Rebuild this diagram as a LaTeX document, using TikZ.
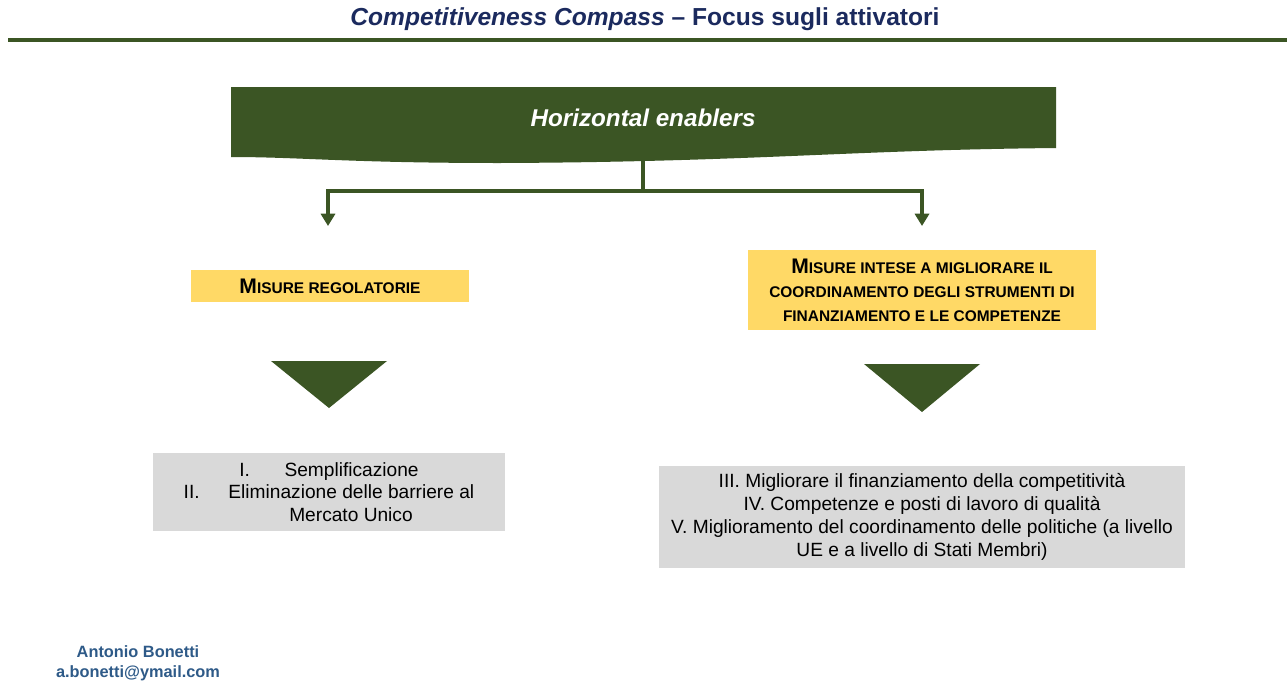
\documentclass[tikz,border=0pt]{standalone}
\usepackage{fontspec}
\setmainfont{Liberation Sans}
\usetikzlibrary{arrows.meta, positioning}

\definecolor{cgreen}{HTML}{3B5524}
\definecolor{cgold}{HTML}{FFD966}
\definecolor{cgrey}{HTML}{D9D9D9}
\definecolor{ctitle}{HTML}{1B2A5E}
\definecolor{cauthor}{HTML}{2E5A88}

% fake small caps: big first letter, small rest
\newcommand{\capsc}[2]{{\fontsize{12}{13}\selectfont #1}{\fontsize{8.8}{13}\selectfont #2}}

\begin{document}
\begin{tikzpicture}[
  x=0.02cm, y=-0.02cm,
  heading/.style={font=\bfseries\fontsize{14}{16}\selectfont, text=ctitle},
  banner/.style={font=\bfseries\itshape\fontsize{13.8}{16}\selectfont, text=white},
  measure/.style={rectangle, fill=cgold, align=center, inner sep=0pt, font=\bfseries\fontsize{8.8}{13.6}\selectfont},
  itemsbox/.style={rectangle, fill=cgrey, align=center, inner sep=0pt, font=\fontsize{10.9}{13}\selectfont},
  author/.style={font=\bfseries\fontsize{9.3}{11.5}\selectfont, text=cauthor, align=center},
  link/.style={draw=cgreen, line width=2.2pt},
  arrow/.style={link, -{Triangle[width=8pt,length=7pt]}}]

  \useasboundingbox (0,0) rectangle (1287,690);
  \fill[white] (0,0) rectangle (1287,690);

  % Title
  \node (title) [heading] at (645,19) {\textit{Competitiveness Compass} -- Focus sugli attivatori};
  \draw[cgreen, line width=2pt] (8,40) -- (1287,40);

  % Banner
  \fill[cgreen] (231,87) -- (1056,87) -- (1056,148)
    .. controls (850,150) and (750,162) .. (500,163)
    .. controls (350,163) and (300,157) .. (231,157) -- cycle;
  \node (enablers) [banner] at (643,118) {Horizontal enablers};
  \coordinate (stem) at (643,160);
  \coordinate (fork) at (643,191);
  \coordinate (tipL) at (328,226);
  \coordinate (tipR) at (922,226);

  % Nodes
  \node (regol) [measure, minimum width=5.56cm, minimum height=0.64cm] at (330,286) {\capsc{M}{ISURE REGOLATORIE}};
  \node (coord) [measure, minimum width=6.96cm, minimum height=1.6cm] at (922,290) {\capsc{M}{ISURE INTESE A MIGLIORARE IL}\\ COORDINAMENTO DEGLI STRUMENTI DI\\ FINANZIAMENTO E LE COMPETENZE};

  \node (regolitems) [itemsbox, minimum width=7.04cm, minimum height=1.56cm] at (329,492) {I.\hspace{1.8em}Semplificazione\\ II.\hspace{1.5em}Eliminazione delle barriere al\\ \hspace*{2.3em}Mercato Unico};
  \node (coorditems) [itemsbox, minimum width=10.52cm, minimum height=2.04cm] at (922,517) {III. Migliorare il finanziamento della competitività\\ IV. Competenze e posti di lavoro di qualità\\ V. Miglioramento del coordinamento delle politiche (a livello\\ UE e a livello di Stati Membri)};

  % Funnels
  \fill[cgreen] (271,361) -- (387,361) -- (329,408) -- cycle;
  \fill[cgreen] (864,364) -- (980,364) -- (922,412) -- cycle;

  % Footer
  \node (name) [author] at (138,663) {Antonio Bonetti\\ a.bonetti@ymail.com};

  % Arrows
  \draw [link] (stem) -- (fork);
  \draw [arrow] (fork) -| (tipL);
  \draw [arrow] (fork) -| (tipR);

\end{tikzpicture}
\end{document}
